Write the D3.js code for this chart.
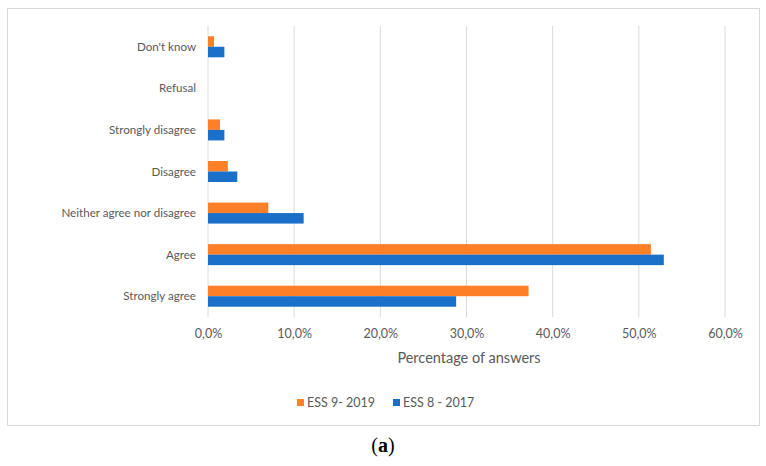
<!DOCTYPE html>
<html><head><meta charset="utf-8">
<script src="https://cdn.jsdelivr.net/npm/d3@7"></script>
<style>body{margin:0;background:#fff}svg{display:block}</style>
</head><body>
<svg id="c" width="766" height="466"></svg>
<script>
const categories = ["Don't know","Refusal","Strongly disagree","Disagree","Neither agree nor disagree","Agree","Strongly agree"];
const seriesNames = ["ESS 9- 2019","ESS 8 - 2017"];
const ess9_2019 = [0.7, 0.0, 1.4, 2.3, 7.0, 51.4, 37.2];
const ess8_2017 = [1.9, 0.0, 1.9, 3.4, 11.1, 52.9, 28.8];
const xTicks = [0,10,20,30,40,50,60];
const colors = ["#fd7f27","#1a6fc9"];
const font = "Lato, 'Open Sans', sans-serif";

const svg = d3.select("#c");
svg.append("rect").attr("x",7.5).attr("y",8.5).attr("width",752).attr("height",417)
  .attr("fill","#fff").attr("stroke","#d9d9d9");

const x = d3.scaleLinear().domain([0,60]).range([208,725]);
const y = d3.scaleBand().domain(categories).range([26,317]);

svg.append("g").selectAll("line").data(xTicks).join("line")
  .attr("x1",d=>x(d)).attr("x2",d=>x(d)).attr("y1",26).attr("y2",317)
  .attr("stroke","#d9d9d9").attr("stroke-width",1);

const inner = d3.scaleBand().domain([0,1]).range([0,21]);
const groups = svg.append("g").selectAll("g").data(categories).join("g")
  .attr("transform",d=>`translate(0,${y(d)+y.bandwidth()/2-10.5})`);
[ess9_2019, ess8_2017].forEach((vals,si)=>{
  groups.append("rect")
    .attr("x",x(0))
    .attr("y",inner(si))
    .attr("height",inner.bandwidth())
    .attr("width",(d,i)=>x(vals[i])-x(0))
    .attr("fill",colors[si]);
});

svg.append("g").selectAll("text").data(categories).join("text")
  .attr("x",196).attr("y",d=>y(d)+y.bandwidth()/2+4)
  .attr("text-anchor","end").attr("font-family",font).attr("font-size",11.6)
  .attr("fill","#595959").text(d=>d);

const xAxis = d3.axisBottom(x).tickValues(xTicks).tickSize(0)
  .tickFormat(d=>d3.format(".1f")(d).replace(".",",")+"%");
const ax = svg.append("g").attr("transform","translate(0,326)").call(xAxis);
ax.select(".domain").remove();
ax.selectAll("text").attr("font-family",font).attr("font-size",12.5).attr("fill","#595959");

svg.append("text").attr("x",469).attr("y",363).attr("text-anchor","middle")
  .attr("font-family",font).attr("font-size",14.5).attr("fill","#595959").text("Percentage of answers");

const legX = [297, 393];
const leg = svg.append("g").selectAll("g").data(seriesNames).join("g")
  .attr("transform",(d,i)=>`translate(${legX[i]},0)`);
leg.append("rect").attr("x",0).attr("y",399).attr("width",7).attr("height",7)
  .attr("fill",(d,i)=>colors[i]);
leg.append("text").attr("x",10).attr("y",407).attr("font-family",font).attr("font-size",12.5)
  .attr("fill","#595959").text(d=>d);

const cap = svg.append("text").attr("x",383).attr("y",452).attr("text-anchor","middle")
  .attr("font-family","'Liberation Serif', serif").attr("font-size",20).attr("fill","#000");
cap.append("tspan").text("(");
cap.append("tspan").attr("font-weight","bold").text("a");
cap.append("tspan").text(")");
</script>
</body></html>
